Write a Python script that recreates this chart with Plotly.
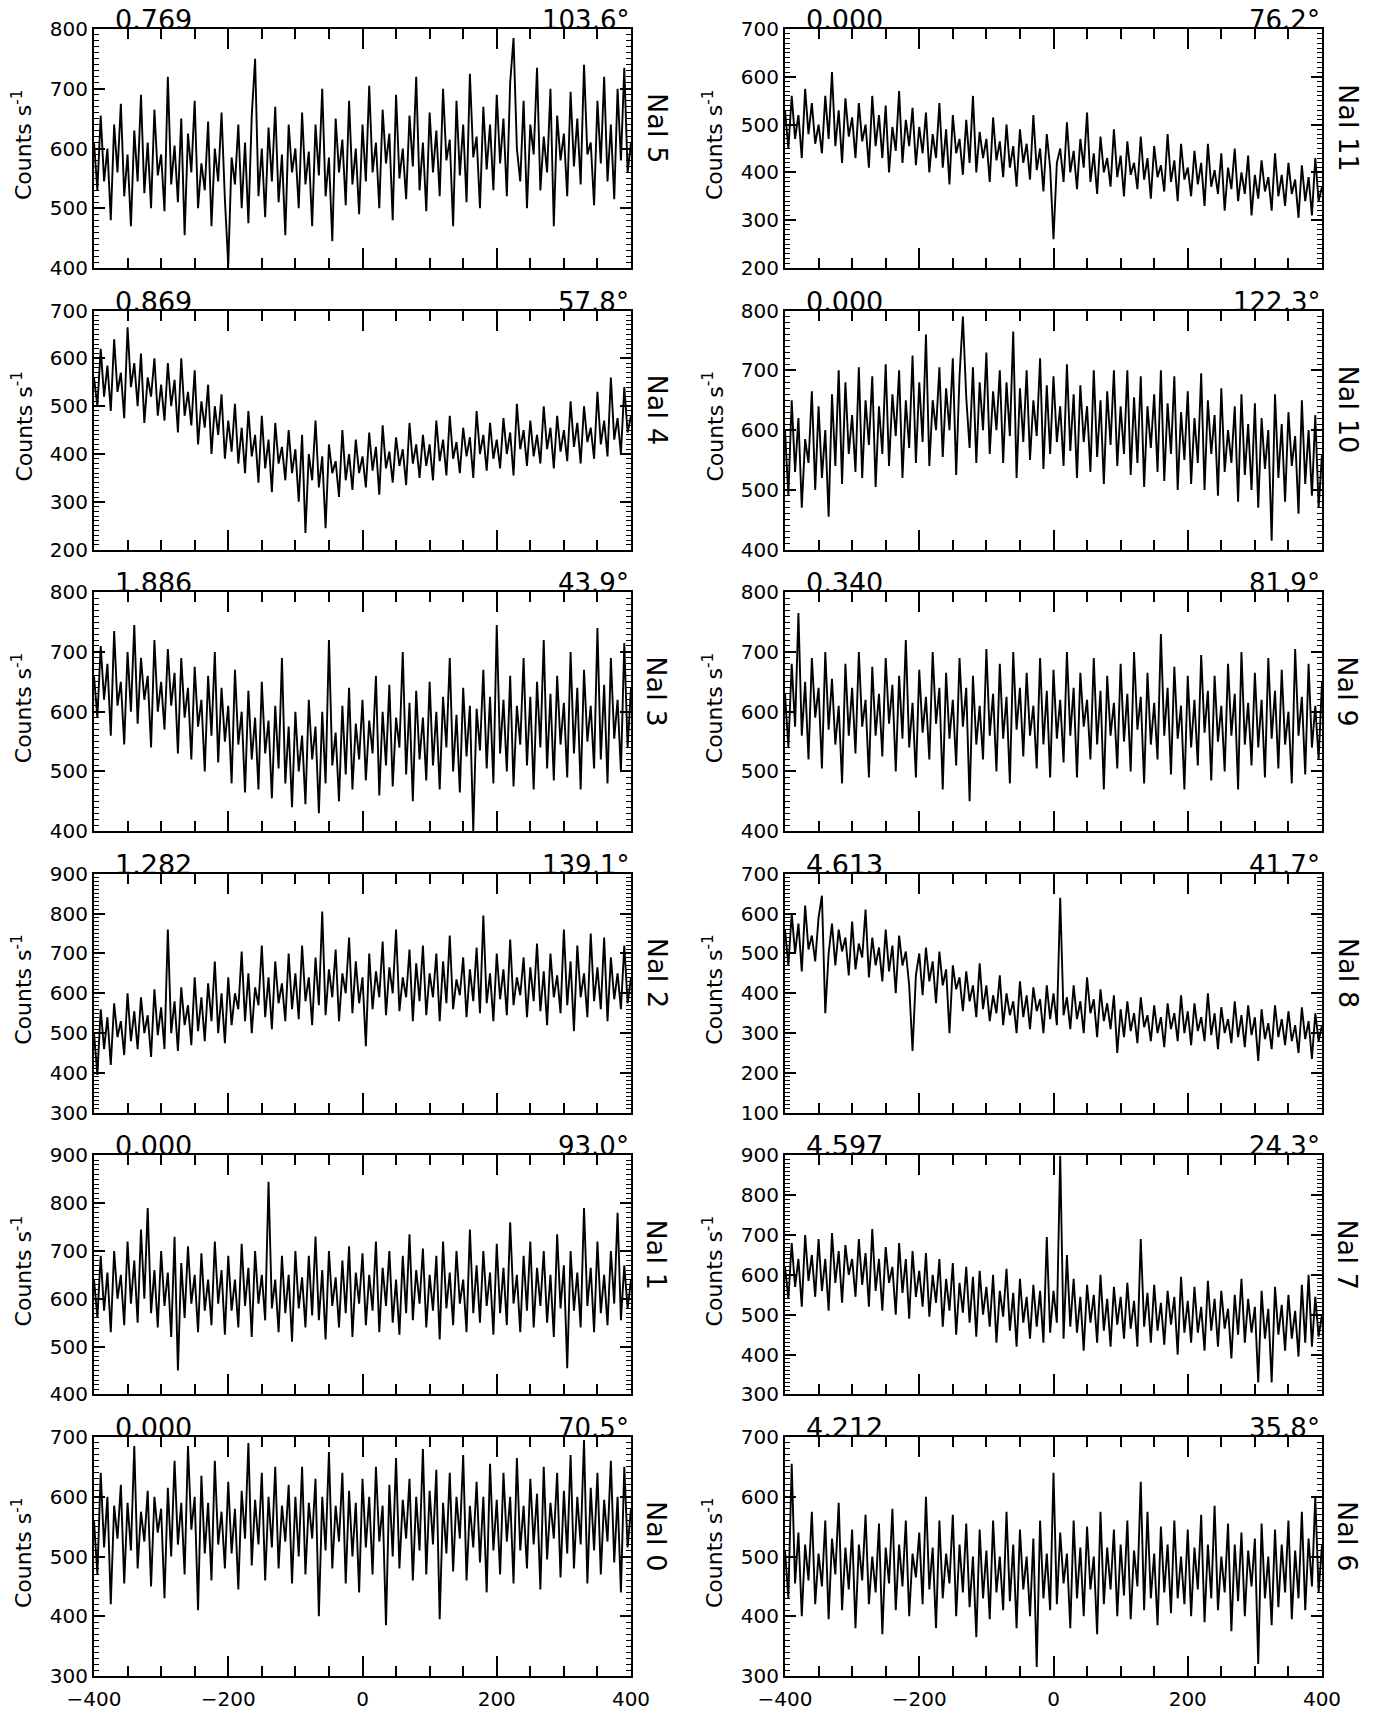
import plotly.graph_objects as go

# time bins (s), 5 s resolution
time_s = list(range(-400, 401, 5))

nai_5 = [610, 530, 655, 545, 600, 480, 640, 560, 675, 520, 590, 470, 630, 545, 690, 525, 610, 500, 665, 555,
         590, 495, 720, 540, 605, 510, 650, 455, 625, 560, 680, 500, 575, 530, 645, 470, 600, 545, 660, 515,
         405, 585, 540, 640, 500, 610, 475, 655, 750, 520, 600, 485, 635, 545, 670, 510, 590, 455, 640, 560,
         600, 500, 660, 540, 595, 470, 640, 555, 700, 520, 585, 445, 650, 560, 615, 505, 680, 540, 600, 490,
         640, 545, 705, 560, 610, 500, 665, 575, 625, 480, 690, 550, 600, 515, 655, 570, 720, 530, 610, 495,
         660, 560, 630, 520, 700, 580, 615, 470, 680, 555, 640, 510, 725, 585, 620, 500, 670, 565, 640, 530,
         690, 575, 650, 520, 710, 785, 600, 545, 680, 500, 640, 590, 735, 530, 620, 560, 700, 470, 655, 580,
         625, 520, 695, 570, 650, 540, 740, 590, 610, 505, 680, 575, 720, 545, 640, 515, 700, 580, 735, 560,
         610]

nai_4 = [560, 500, 620, 520, 585, 490, 640, 530, 570, 475, 665, 540, 590, 500, 610, 465, 560, 520, 600, 480,
         545, 470, 590, 500, 555, 445, 600, 480, 530, 460, 575, 420, 510, 455, 545, 400, 500, 440, 525, 390,
         470, 405, 505, 380, 455, 360, 490, 395, 440, 340, 480, 370, 430, 320, 465, 380, 415, 345, 450, 360,
         410, 300, 440, 235, 400, 345, 470, 330, 395, 245, 420, 360, 385, 310, 450, 345, 400, 325, 430, 360,
         395, 330, 445, 365, 415, 315, 460, 370, 405, 340, 435, 375, 410, 335, 465, 380, 420, 350, 440, 375,
         420, 345, 470, 385, 430, 355, 480, 390, 425, 360, 455, 395, 435, 350, 490, 400, 440, 365, 465, 390,
         430, 370, 475, 400, 445, 355, 505, 410, 450, 375, 470, 395, 440, 380, 500, 410, 455, 370, 480, 405,
         450, 385, 510, 415, 465, 380, 500, 425, 455, 390, 530, 420, 470, 395, 560, 430, 475, 400, 540, 445,
         480]

nai_3 = [660, 590, 710, 620, 680, 560, 735, 610, 650, 545, 700, 600, 745, 580, 690, 620, 660, 540, 720, 600,
         650, 570, 705, 610, 665, 530, 690, 590, 640, 520, 675, 575, 620, 500, 660, 560, 700, 515, 640, 550,
         610, 480, 670, 545, 600, 465, 635, 520, 590, 470, 650, 530, 585, 455, 610, 505, 690, 480, 575, 440,
         600, 500, 560, 445, 620, 520, 575, 430, 600, 480, 720, 510, 565, 450, 610, 495, 640, 470, 580, 520,
         620, 485, 585, 530, 660, 460, 600, 510, 645, 475, 590, 540, 700, 495, 615, 450, 635, 520, 590, 485,
         650, 510, 600, 470, 625, 540, 690, 500, 595, 465, 640, 525, 610, 400, 605, 535, 670, 505, 625, 480,
         745, 530, 620, 500, 660, 475, 610, 545, 690, 510, 625, 470, 650, 540, 720, 505, 630, 485, 660, 545,
         615, 490, 700, 530, 640, 470, 670, 550, 610, 505, 740, 520, 645, 480, 690, 555, 620, 500, 715, 540,
         640]

nai_2 = [500, 395, 560, 460, 540, 420, 575, 490, 530, 445, 600, 480, 555, 460, 590, 500, 545, 440, 610, 495,
         565, 460, 760, 500, 580, 455, 615, 520, 570, 470, 640, 505, 590, 480, 625, 530, 680, 500, 600, 475,
         640, 520, 600, 560, 705, 530, 650, 500, 615, 570, 720, 540, 640, 510, 680, 575, 625, 530, 700, 560,
         650, 535, 720, 580, 640, 520, 690, 570, 805, 545, 660, 590, 710, 530, 650, 600, 740, 550, 680, 575,
         640, 467, 700, 560, 655, 590, 730, 545, 665, 600, 760, 555, 640, 590, 710, 530, 675, 580, 720, 545,
         650, 590, 700, 530, 680, 575, 745, 560, 635, 595, 690, 540, 660, 580, 715, 550, 795, 575, 650, 530,
         700, 585, 660, 545, 735, 570, 640, 595, 690, 540, 665, 580, 725, 555, 655, 520, 700, 590, 645, 550,
         760, 570, 680, 505, 720, 590, 650, 540, 750, 580, 665, 560, 740, 530, 690, 585, 650, 560, 720, 575,
         640]

nai_1 = [640, 560, 690, 575, 655, 530, 700, 600, 650, 545, 720, 590, 680, 550, 745, 600, 790, 570, 660, 540,
         700, 585, 655, 520, 730, 450, 675, 560, 710, 590, 650, 530, 695, 575, 640, 545, 720, 590, 660, 525,
         690, 575, 640, 540, 715, 585, 665, 520, 700, 590, 650, 555, 845, 580, 640, 530, 690, 570, 650, 510,
         700, 580, 645, 540, 690, 565, 730, 555, 660, 515, 700, 585, 645, 540, 680, 570, 710, 520, 655, 590,
         695, 545, 650, 575, 720, 530, 665, 585, 700, 550, 640, 525, 690, 570, 735, 555, 660, 590, 705, 540,
         650, 575, 690, 515, 720, 580, 655, 545, 700, 590, 640, 530, 745, 570, 670, 550, 700, 585, 655, 525,
         715, 570, 665, 545, 760, 590, 650, 530, 690, 575, 720, 540, 665, 585, 700, 550, 650, 520, 735, 580,
         670, 455, 700, 575, 655, 540, 790, 585, 665, 530, 720, 570, 650, 545, 700, 590, 780, 555, 670, 580,
         640]

nai_0 = [560, 470, 640, 515, 600, 420, 585, 530, 620, 455, 590, 510, 685, 480, 575, 525, 610, 450, 600, 540,
         580, 430, 615, 500, 660, 520, 590, 470, 685, 545, 600, 410, 635, 505, 590, 460, 660, 520, 575, 480,
         625, 505, 580, 445, 610, 530, 690, 485, 595, 520, 640, 460, 600, 515, 650, 480, 585, 525, 620, 455,
         600, 500, 650, 470, 590, 530, 630, 400, 600, 510, 675, 480, 585, 525, 640, 455, 610, 500, 590, 440,
         630, 515, 600, 470, 650, 525, 585, 385, 620, 500, 665, 480, 595, 530, 630, 460, 600, 510, 680, 470,
         610, 520, 645, 395, 590, 505, 640, 475, 600, 530, 670, 460, 585, 515, 625, 490, 600, 440, 655, 510,
         595, 470, 640, 525, 600, 455, 665, 510, 585, 480, 630, 520, 605, 445, 650, 495, 590, 530, 640, 465,
         610, 505, 670, 480, 600, 520, 695, 455, 615, 510, 640, 470, 595, 525, 660, 490, 600, 440, 650, 515,
         580]

nai_11 = [530, 450, 560, 470, 520, 430, 575, 480, 545, 460, 500, 440, 560, 470, 610, 455, 530, 420, 555, 475,
          515, 430, 545, 465, 500, 410, 560, 455, 520, 430, 540, 400, 495, 445, 570, 420, 510, 455, 535, 415,
          495, 440, 525, 400, 480, 430, 545, 410, 490, 375, 520, 440, 470, 395, 510, 420, 560, 400, 485, 430,
          470, 380, 515, 425, 465, 390, 500, 410, 455, 370, 490, 420, 460, 385, 520, 405, 450, 360, 480, 410,
          260, 420, 450, 380, 505, 400, 445, 365, 470, 410, 525, 380, 440, 355, 475, 400, 430, 370, 490, 390,
          435, 350, 465, 395, 420, 365, 475, 385, 430, 345, 455, 390, 415, 360, 480, 380, 425, 340, 460, 385,
          410, 350, 445, 375, 420, 330, 460, 370, 405, 355, 440, 320, 410, 365, 450, 340, 400, 355, 435, 310,
          395, 345, 425, 360, 390, 320, 440, 350, 395, 330, 420, 355, 385, 305, 415, 340, 390, 310, 430, 340,
          370]

nai_10 = [600, 490, 650, 530, 620, 470, 585, 545, 665, 500, 640, 520, 600, 455, 660, 540, 700, 510, 680, 560,
          625, 530, 705, 520, 650, 575, 690, 505, 640, 560, 710, 540, 660, 590, 700, 520, 650, 570, 725, 545,
          680, 580, 760, 540, 650, 600, 705, 555, 670, 600, 720, 525, 690, 790, 655, 570, 705, 545, 680, 600,
          730, 560, 665, 600, 700, 545, 680, 590, 765, 520, 670, 580, 700, 550, 650, 590, 720, 535, 675, 560,
          690, 580, 640, 540, 710, 565, 660, 520, 675, 580, 640, 530, 700, 555, 650, 510, 665, 575, 700, 540,
          640, 560, 700, 525, 655, 545, 690, 505, 640, 570, 660, 530, 700, 515, 645, 560, 690, 500, 630, 550,
          665, 510, 620, 545, 695, 500, 650, 560, 625, 490, 670, 530, 600, 545, 640, 480, 660, 525, 610, 500,
          645, 470, 620, 535, 600, 415, 660, 520, 610, 480, 630, 540, 590, 460, 650, 510, 600, 490, 625, 470,
          560]

nai_9 = [630, 540, 680, 575, 765, 560, 650, 520, 690, 590, 640, 505, 700, 570, 655, 545, 610, 480, 680, 560,
         640, 530, 700, 575, 620, 490, 675, 560, 630, 525, 690, 580, 645, 500, 660, 555, 720, 540, 615, 490,
         670, 565, 625, 520, 700, 580, 640, 470, 665, 555, 620, 510, 690, 575, 640, 450, 660, 545, 610, 520,
         705, 560, 630, 500, 680, 555, 625, 480, 700, 570, 640, 525, 665, 560, 610, 505, 690, 545, 635, 490,
         670, 555, 620, 515, 700, 560, 640, 490, 665, 575, 620, 520, 690, 545, 635, 470, 660, 560, 615, 505,
         680, 550, 630, 500, 700, 570, 625, 480, 665, 545, 615, 520, 730, 560, 640, 495, 675, 555, 610, 470,
         660, 540, 620, 510, 695, 565, 635, 485, 660, 550, 610, 500, 680, 560, 630, 470, 700, 545, 615, 510,
         665, 540, 620, 490, 690, 555, 635, 505, 670, 545, 600, 480, 705, 560, 625, 495, 680, 540, 610, 520,
         650]

nai_8 = [560, 470, 600, 500, 575, 455, 620, 510, 545, 480, 590, 645, 350, 500, 575, 470, 560, 505, 540, 445,
         580, 460, 525, 490, 610, 440, 540, 470, 515, 430, 560, 455, 520, 400, 545, 470, 505, 420, 255, 445,
         500, 395, 515, 430, 480, 375, 505, 420, 460, 300, 470, 410, 440, 355, 455, 380, 420, 340, 475, 360,
         420, 330, 395, 350, 445, 320, 400, 345, 380, 300, 430, 340, 395, 310, 415, 355, 385, 300, 420, 335,
         400, 320, 640, 345, 390, 310, 420, 335, 380, 300, 440, 350, 385, 290, 410, 330, 375, 310, 395, 250,
         360, 290, 380, 305, 350, 275, 390, 315, 345, 280, 370, 300, 340, 265, 375, 310, 350, 280, 395, 300,
         355, 270, 375, 305, 340, 280, 400, 295, 350, 260, 365, 300, 335, 275, 380, 290, 345, 265, 370, 295,
         340, 230, 360, 285, 325, 260, 370, 290, 335, 270, 355, 280, 320, 250, 365, 285, 330, 235, 350, 280,
         320]

nai_7 = [620, 540, 680, 570, 640, 520, 700, 585, 650, 545, 690, 560, 640, 510, 705, 580, 660, 530, 675, 600,
         640, 545, 690, 575, 655, 520, 715, 560, 640, 510, 670, 580, 620, 500, 680, 555, 640, 490, 660, 545,
         610, 520, 655, 495, 600, 530, 640, 470, 590, 510, 630, 450, 580, 505, 620, 480, 595, 445, 610, 500,
         570, 470, 600, 430, 560, 495, 615, 460, 555, 420, 590, 480, 545, 440, 575, 470, 560, 430, 695, 455,
         560, 480, 900, 440, 650, 470, 590, 455, 545, 410, 575, 480, 550, 430, 600, 460, 540, 420, 570, 475,
         545, 440, 580, 465, 535, 420, 690, 470, 555, 430, 575, 460, 530, 425, 560, 475, 545, 400, 595, 455,
         535, 430, 570, 455, 520, 410, 585, 460, 540, 420, 560, 465, 515, 390, 550, 450, 590, 430, 540, 455,
         520, 330, 560, 440, 515, 330, 570, 450, 525, 410, 550, 440, 510, 395, 575, 430, 600, 420, 545, 445,
         500]

nai_6 = [510, 430, 655, 455, 540, 400, 520, 460, 575, 420, 505, 450, 560, 395, 530, 470, 590, 410, 515, 445,
         545, 380, 520, 460, 570, 420, 500, 440, 555, 370, 515, 455, 580, 410, 520, 450, 560, 400, 505, 465,
         540, 420, 600, 445, 515, 380, 560, 430, 505, 455, 570, 400, 520, 440, 555, 415, 500, 365, 545, 430,
         510, 395, 560, 440, 500, 410, 575, 425, 520, 380, 545, 445, 500, 400, 530, 315, 560, 430, 505, 410,
         640, 420, 540, 455, 505, 380, 560, 430, 515, 400, 550, 445, 500, 370, 575, 420, 515, 445, 545, 400,
         520, 435, 560, 395, 510, 450, 625, 410, 575, 430, 505, 385, 550, 440, 520, 405, 560, 430, 500, 420,
         545, 400, 515, 445, 570, 390, 520, 430, 585, 410, 500, 440, 555, 375, 520, 425, 540, 400, 510, 450,
         530, 320, 555, 430, 500, 385, 545, 415, 520, 440, 560, 395, 510, 430, 575, 410, 530, 450, 600, 440,
         520]

# panels: left column top->bottom, then right column top->bottom
detector_names = ["NaI 5", "NaI 4", "NaI 3", "NaI 2", "NaI 1", "NaI 0",
                  "NaI 11", "NaI 10", "NaI 9", "NaI 8", "NaI 7", "NaI 6"]
panel_series = [nai_5, nai_4, nai_3, nai_2, nai_1, nai_0,
                nai_11, nai_10, nai_9, nai_8, nai_7, nai_6]
y_ranges = [[400, 800], [200, 700], [400, 800], [300, 900], [400, 900], [300, 700],
            [200, 700], [400, 800], [400, 800], [100, 700], [300, 900], [300, 700]]
left_labels = ["0.769", "0.869", "1.886", "1.282", "0.000", "0.000",
               "0.000", "0.000", "0.340", "4.613", "4.597", "4.212"]
angle_labels = ["103.6°", "57.8°", "43.9°", "139.1°", "93.0°", "70.5°",
                "76.2°", "122.3°", "81.9°", "41.7°", "24.3°", "35.8°"]

W, H = 1374, 1714
col_left_px = [94, 785]
panel_w = 537
row_top_px = [29 + i * 281.6 for i in range(6)]
panel_h = 239
FONT = "DejaVu Sans"

fig = go.Figure()
layout = dict(template="none", width=W, height=H, margin=dict(l=0, r=0, t=0, b=0, pad=0),
              paper_bgcolor="white", plot_bgcolor="white", showlegend=False,
              font=dict(family=FONT, color="black"))
annotations = []

for idx in range(12):
    k = idx + 1
    col = idx // 6
    row = idx % 6
    x0 = col_left_px[col]
    x1 = x0 + panel_w
    top = row_top_px[row]
    bot = top + panel_h
    vals = panel_series[idx]
    fig.add_trace(go.Scatter(x=time_s[:len(vals)], y=vals, mode="lines",
                             line=dict(color="black", width=1.9),
                             xaxis=f"x{k}", yaxis=f"y{k}", hoverinfo="skip"))
    layout[f"xaxis{k}"] = dict(
        domain=[x0 / W, x1 / W], anchor=f"y{k}", range=[-400, 400], automargin=False,
        tickmode="linear", tick0=-400, dtick=200,
        ticks="inside", ticklen=20, tickwidth=1.5, tickcolor="black",
        showticklabels=(row == 5), ticklabelstandoff=4,
        tickfont=dict(family=FONT, size=20, color="black"),
        showline=True, linecolor="black", linewidth=2, mirror="ticks",
        showgrid=False, zeroline=False,
        minor=dict(tickmode="linear", tick0=-400, dtick=50, ticks="inside",
                   ticklen=10, tickwidth=1.5, tickcolor="black", showgrid=False))
    yr = y_ranges[idx]
    layout[f"yaxis{k}"] = dict(
        domain=[1 - bot / H, 1 - top / H], anchor=f"x{k}", range=yr, automargin=False,
        tickmode="linear", tick0=yr[0], dtick=100,
        ticks="inside", ticklen=11, tickwidth=1.5, tickcolor="black",
        tickfont=dict(family=FONT, size=20, color="black"),
        showline=True, linecolor="black", linewidth=2, mirror="ticks",
        showgrid=False, zeroline=False,
        minor=dict(tickmode="linear", tick0=yr[0], dtick=10, ticks="inside",
                   ticklen=5, tickwidth=1.2, tickcolor="black", showgrid=False))
    # texts
    annotations.append(dict(x=(x0 + 19) / W, y=1 - top / H, xref="paper", yref="paper",
                            text=left_labels[idx], showarrow=False, xanchor="left",
                            yanchor="bottom", yshift=-8,
                            font=dict(family=FONT, size=27, color="black")))
    annotations.append(dict(x=x1 / W, y=1 - top / H, xref="paper", yref="paper",
                            text=angle_labels[idx], showarrow=False, xanchor="right",
                            yanchor="bottom", yshift=-8,
                            font=dict(family=FONT, size=26, color="black")))
    annotations.append(dict(x=(x1 + 26) / W, y=1 - (top + 99) / H, xref="paper", yref="paper",
                            text=detector_names[idx], showarrow=False, textangle=90,
                            xanchor="center", yanchor="middle",
                            font=dict(family=FONT, size=27, color="black")))
    annotations.append(dict(x=(x0 - 72) / W, y=1 - (top + 116) / H, xref="paper", yref="paper",
                            text="Counts s<sup>-1</sup>", showarrow=False, textangle=-90,
                            xanchor="center", yanchor="middle",
                            font=dict(family=FONT, size=22, color="black")))

layout["annotations"] = annotations
fig.update_layout(**layout)
fig.write_html("out.html", config={"displayModeBar": False},
               post_script="document.body.style.margin='0px';")
